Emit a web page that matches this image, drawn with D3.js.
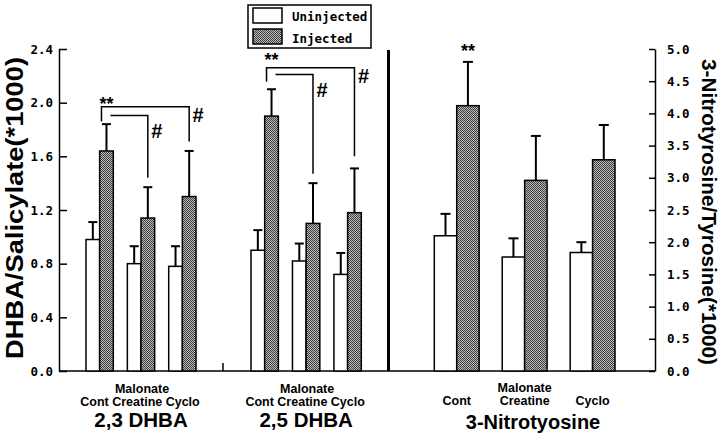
<!DOCTYPE html>
<html><head><meta charset="utf-8">
<script src="https://cdn.jsdelivr.net/npm/d3@7"></script>
<style>body{margin:0;background:#fff} svg{display:block}</style>
</head><body><svg id="c" width="720" height="436"></svg>
<script>
// ---- data ----
const groupNames = ["2,3 DHBA", "2,5 DHBA", "3-Nitrotyosine"];
const conditions = ["Cont", "Creatine", "Cyclo"];
const seriesNames = ["Uninjected", "Injected"];

const dhba23Uninjected    = [0.98, 0.80, 0.78];
const dhba23UninjectedErr = [0.13, 0.13, 0.15];
const dhba23Injected      = [1.64, 1.14, 1.30];
const dhba23InjectedErr   = [0.20, 0.23, 0.34];

const dhba25Uninjected    = [0.90, 0.82, 0.72];
const dhba25UninjectedErr = [0.15, 0.13, 0.16];
const dhba25Injected      = [1.90, 1.10, 1.18];
const dhba25InjectedErr   = [0.20, 0.30, 0.33];

const nitroUninjected     = [2.10, 1.77, 1.84];
const nitroUninjectedErr  = [0.34, 0.29, 0.16];
const nitroInjected       = [4.12, 2.96, 3.28];
const nitroInjectedErr    = [0.68, 0.69, 0.54];

const leftTicks  = [0, 0.4, 0.8, 1.2, 1.6, 2.0, 2.4];
const rightTicks = [0, 0.5, 1.0, 1.5, 2.0, 2.5, 3.0, 3.5, 4.0, 4.5, 5.0];

// ---- chart ----
const svg = d3.select("#c");
const defs = svg.append("defs");
const pat = defs.append("pattern").attr("id", "dither")
  .attr("width", 2).attr("height", 2).attr("patternUnits", "userSpaceOnUse");
pat.append("rect").attr("width", 2).attr("height", 2).attr("fill", "#bdbdbd");
pat.append("rect").attr("x", 0).attr("y", 0).attr("width", 1).attr("height", 1).attr("fill", "#3c3c3c");
pat.append("rect").attr("x", 1).attr("y", 1).attr("width", 1).attr("height", 1).attr("fill", "#3c3c3c");

const plotTop = 49, plotBottom = 371, leftX = 59, rightX = 655;
const yL = d3.scaleLinear().domain([0, 2.4]).range([plotBottom, plotTop]);
const yR = d3.scaleLinear().domain([0, 5]).range([plotBottom, plotTop]);

const monoFont = "'DejaVu Sans Mono', monospace";
const sansFont = "'Liberation Sans', Arial, Helvetica, sans-serif";

// axes
const gL = svg.append("g").attr("transform", `translate(${leftX},0)`)
  .call(d3.axisLeft(yL).tickValues(leftTicks).tickFormat(d3.format(".1f"))
        .tickSizeInner(-8).tickSizeOuter(0).tickPadding(6));
const gR = svg.append("g").attr("transform", `translate(${rightX},0)`)
  .call(d3.axisRight(yR).tickValues(rightTicks).tickFormat(d3.format(".1f"))
        .tickSizeInner(-6).tickSizeOuter(0).tickPadding(12));
[gL, gR].forEach(g => {
  g.selectAll("path, line").attr("stroke", "#000").attr("stroke-width", 1.5);
  g.selectAll("text").attr("font-family", monoFont).attr("font-weight", "bold")
    .attr("font-size", 12.5).attr("fill", "#000");
});
svg.append("line").attr("x1", leftX).attr("x2", rightX).attr("y1", plotBottom).attr("y2", plotBottom)
  .attr("stroke", "#000").attr("stroke-width", 1.5);

// separator thick line & small tick
svg.append("line").attr("x1", 388.5).attr("x2", 388.5).attr("y1", 50).attr("y2", plotBottom)
  .attr("stroke", "#000").attr("stroke-width", 3);
svg.append("line").attr("x1", 223).attr("x2", 223).attr("y1", plotBottom - 8).attr("y2", plotBottom)
  .attr("stroke", "#000").attr("stroke-width", 1.5);

// groups
const groups = [
  {name: groupNames[0], range: [86, 196], y: yL, cap: 9,
   vals: [dhba23Uninjected, dhba23Injected], errs: [dhba23UninjectedErr, dhba23InjectedErr]},
  {name: groupNames[1], range: [251, 361.3], y: yL, cap: 9,
   vals: [dhba25Uninjected, dhba25Injected], errs: [dhba25UninjectedErr, dhba25InjectedErr]},
  {name: groupNames[2], range: [434.3, 615], y: yR, cap: 10,
   vals: [nitroUninjected, nitroInjected], errs: [nitroUninjectedErr, nitroInjectedErr]}
];

groups.forEach((grp, gi) => {
  grp.x = d3.scaleBand().domain(conditions).range(grp.range).paddingInner(0.34).paddingOuter(0);
  grp.sub = d3.scaleBand().domain(seriesNames).range([0, grp.x.bandwidth()]);
  const recs = [];
  seriesNames.forEach((s, si) => conditions.forEach((c, ci) => {
    recs.push({s, c, v: grp.vals[si][ci], e: grp.errs[si][ci]});
  }));
  const g = svg.append("g");
  g.selectAll(".err").data(recs).join("g").each(function(d) {
    const cx = grp.x(d.c) + grp.sub(d.s) + grp.sub.bandwidth() / 2;
    const sel = d3.select(this);
    sel.append("line").attr("x1", cx).attr("x2", cx)
      .attr("y1", grp.y(d.v)).attr("y2", grp.y(d.v + d.e))
      .attr("stroke", "#000").attr("stroke-width", 2);
    sel.append("line").attr("x1", cx - grp.cap / 2).attr("x2", cx + grp.cap / 2)
      .attr("y1", grp.y(d.v + d.e)).attr("y2", grp.y(d.v + d.e))
      .attr("stroke", "#000").attr("stroke-width", 2);
  });
  g.selectAll("rect").data(recs).join("rect")
    .attr("x", d => grp.x(d.c) + grp.sub(d.s))
    .attr("width", grp.sub.bandwidth())
    .attr("y", d => grp.y(d.v))
    .attr("height", d => grp.y(0) - grp.y(d.v))
    .attr("fill", d => d.s === "Injected" ? "url(#dither)" : "#fff")
    .attr("stroke", "#000").attr("stroke-width", 1.5);

  const center = (grp.range[0] + grp.range[1]) / 2;
  if (gi < 2) {
    svg.append("text").attr("x", center - 1).attr("y", 406).attr("text-anchor", "middle")
      .attr("font-family", sansFont).attr("font-weight", "bold").attr("font-size", 12.5)
      .text(conditions.join(" "));
    svg.append("text").attr("x", grp.x("Creatine") + grp.x.bandwidth() / 2 + 1).attr("y", 393)
      .attr("text-anchor", "middle").attr("font-family", sansFont).attr("font-weight", "bold")
      .attr("font-size", 12.5).text("Malonate");
  } else {
    conditions.forEach(c => {
      svg.append("text").attr("x", grp.x(c) + grp.x.bandwidth() / 2).attr("y", 405)
        .attr("text-anchor", "middle").attr("font-family", sansFont).attr("font-weight", "bold")
        .attr("font-size", 12.5).text(c);
    });
    svg.append("text").attr("x", grp.x("Creatine") + grp.x.bandwidth() / 2).attr("y", 392)
      .attr("text-anchor", "middle").attr("font-family", sansFont).attr("font-weight", "bold")
      .attr("font-size", 12.5).text("Malonate");
  }
  svg.append("text").attr("x", gi < 2 ? center : 533).attr("y", gi < 2 ? 427 : 429)
    .attr("text-anchor", "middle").attr("font-family", sansFont).attr("font-weight", "bold")
    .attr("font-size", gi < 2 ? 20.5 : 20).text(grp.name);
});

// significance annotations
function injCenter(grp, c) { return grp.x(c) + grp.sub("Injected") + grp.sub.bandwidth() / 2; }
function stars(x, y) {
  svg.append("text").attr("x", x).attr("y", y).attr("text-anchor", "middle")
    .attr("font-family", sansFont).attr("font-weight", "bold").attr("font-size", 18).text("**");
}
function hash(x, y) {
  svg.append("text").attr("x", x).attr("y", y).attr("text-anchor", "middle")
    .attr("font-family", sansFont).attr("font-weight", "bold").attr("font-size", 20).text("#");
}
function bracketPath(pts) {
  svg.append("path").attr("d", d3.line()(pts)).attr("fill", "none")
    .attr("stroke", "#000").attr("stroke-width", 1.5);
}
const brackets = [
  {g: 0, outer: [1.97, 1.86, 1.71], inner: [1.905, 1.44], starGap: 3},
  {g: 1, outer: [2.26, 2.155, 1.60], inner: [2.21, 1.47], starGap: -2}
];
brackets.forEach(b => {
  const grp = groups[b.g], y = grp.y;
  const xc = injCenter(grp, "Cont"), xm = injCenter(grp, "Creatine"), xy = injCenter(grp, "Cyclo");
  bracketPath([[xc - 5, y(b.outer[1])], [xc - 5, y(b.outer[0])], [xy, y(b.outer[0])], [xy, y(b.outer[2])]]);
  bracketPath([[xc + 4, y(b.inner[0])], [xm, y(b.inner[0])], [xm, y(b.inner[1])]]);
  stars(xc, y(b.outer[0]) + b.starGap);
  hash(xm + 9, y(b.inner[0]) + 23);
  hash(xy + 9, y(b.outer[0]) + 15);
});
stars(injCenter(groups[2], "Cont"), yR(nitroInjected[0] + nitroInjectedErr[0]) - 5);

// axis titles
svg.append("text").attr("transform", `translate(23,${(plotTop + plotBottom) / 2 - 2}) rotate(-90)`)
  .attr("text-anchor", "middle").attr("font-family", sansFont).attr("font-weight", "bold")
  .attr("font-size", 24).attr("textLength", 302).attr("lengthAdjust", "spacingAndGlyphs")
  .text("DHBA/Salicylate(*1000)");
svg.append("text").attr("transform", `translate(702,${(plotTop + plotBottom) / 2 + 2}) rotate(90)`)
  .attr("text-anchor", "middle").attr("font-family", sansFont).attr("font-weight", "bold")
  .attr("font-size", 20.5).attr("textLength", 306).attr("lengthAdjust", "spacingAndGlyphs")
  .text("3-Nitrotyrosine/Tyrosine(*1000)");

// legend
const lg = svg.append("g");
lg.append("rect").attr("x", 248).attr("y", 5).attr("width", 123).attr("height", 43)
  .attr("fill", "#fff").attr("stroke", "#000").attr("stroke-width", 1.5);
seriesNames.forEach((s, i) => {
  lg.append("rect").attr("x", 253).attr("y", 8 + i * 21).attr("width", 29).attr("height", 15)
    .attr("fill", s === "Injected" ? "url(#dither)" : "#fff").attr("stroke", "#000").attr("stroke-width", 1.5);
  lg.append("text").attr("x", 292).attr("y", 21 + i * 22).attr("font-family", monoFont)
    .attr("font-weight", "bold").attr("font-size", 12.5).text(s);
});
</script></body></html>
